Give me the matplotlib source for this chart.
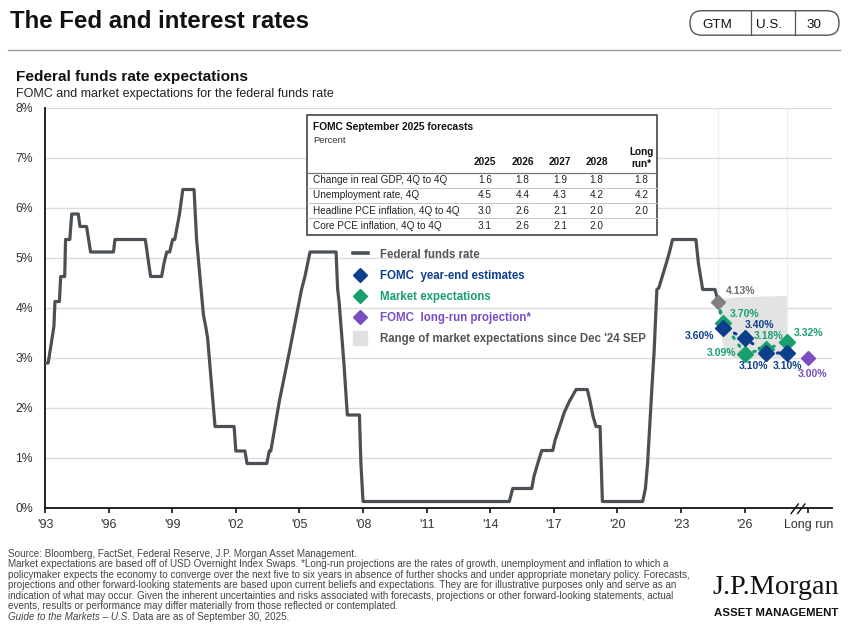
import matplotlib
matplotlib.use("Agg")
import matplotlib.pyplot as plt
from matplotlib.patches import FancyBboxPatch, Rectangle
from matplotlib.lines import Line2D

plt.rcParams['font.family'] = ['Liberation Sans', 'DejaVu Sans']

# ---------------- data (x positions: tick 'YY = end of year YY) ----------------
ffr_x = [1993.00, 1993.15, 1993.42, 1993.47, 1993.68, 1993.74, 1993.93, 1993.97, 1994.17,
         1994.26, 1994.57, 1994.65, 1994.96, 1995.15, 1996.23, 1996.30, 1997.73, 1997.98,
         1998.50, 1998.60, 1998.74, 1998.88, 1999.02, 1999.12, 1999.34, 1999.50, 2000.03,
         2000.15, 2000.47, 2000.58, 2000.67, 2001.02, 2001.92, 2002.00, 2002.43, 2002.53,
         2003.46, 2003.58, 2003.65, 2003.85, 2004.05, 2004.29, 2004.52, 2004.76, 2005.10,
         2005.26, 2005.50, 2006.73, 2006.80, 2006.87, 2007.10, 2007.26, 2007.83, 2007.90,
         2008.00, 2014.90, 2015.06, 2015.96, 2016.06, 2016.24, 2016.43, 2016.95, 2017.06,
         2017.26, 2017.49, 2017.73, 2018.05, 2018.58, 2018.71, 2018.85, 2018.99, 2019.18,
         2019.29, 2021.19, 2021.32, 2021.42, 2021.62, 2021.73, 2021.86, 2021.95, 2022.30,
         2022.45, 2022.60, 2023.70, 2023.82, 2024.02, 2024.60, 2024.75]
ffr_y = [2.90, 2.90, 3.63, 4.13, 4.13, 4.63, 4.63, 5.37, 5.37,
         5.88, 5.88, 5.63, 5.63, 5.12, 5.12, 5.37, 5.37, 4.63,
         4.63, 4.87, 5.12, 5.12, 5.37, 5.37, 5.87, 6.37, 6.37,
         5.37, 3.87, 3.63, 3.40, 1.63, 1.63, 1.14, 1.14, 0.89,
         0.89, 1.14, 1.14, 1.63, 2.13, 2.63, 3.11, 3.63, 4.37,
         4.63, 5.12, 5.12, 4.39, 4.13, 2.89, 1.86, 1.86, 0.89,
         0.13, 0.13, 0.39, 0.39, 0.63, 0.89, 1.15, 1.15, 1.36,
         1.61, 1.91, 2.13, 2.37, 2.37, 2.13, 1.83, 1.63, 1.63,
         0.13, 0.13, 0.39, 0.88, 2.36, 3.13, 4.37, 4.40, 4.89,
         5.11, 5.37, 5.37, 4.89, 4.37, 4.37, 4.13]

current_x = [2024.75]
current_y = [4.13]
fomc_x = [2025, 2026, 2027, 2028]
fomc_y = [3.60, 3.40, 3.10, 3.10]
mkt_x = [2025, 2026, 2027, 2028]
mkt_y = [3.70, 3.09, 3.18, 3.32]
longrun_x = [2029]
longrun_y = [3.00]

range_x = [2024.75, 2024.85, 2024.95, 2025.10, 2025.50, 2026.0, 2027.0, 2028.0]
range_lo = [4.13, 3.60, 3.30, 3.12, 3.00, 3.00, 3.00, 3.00]
range_hi = [4.13, 4.17, 4.19, 4.20, 4.22, 4.23, 4.24, 4.25]

year_ticks = [1993, 1996, 1999, 2002, 2005, 2008, 2011, 2014, 2017, 2020, 2023, 2026, 2029]
year_labels = ["'93", "'96", "'99", "'02", "'05", "'08", "'11", "'14", "'17", "'20", "'23", "'26", "Long run"]
y_ticks = [0, 1, 2, 3, 4, 5, 6, 7, 8]

table_title = "FOMC September 2025 forecasts"
table_unit = "Percent"
table_cols = ["2025", "2026", "2027", "2028", "Long\nrun*"]
table_rows = ["Change in real GDP, 4Q to 4Q", "Unemployment rate, 4Q",
              "Headline PCE inflation, 4Q to 4Q", "Core PCE inflation, 4Q to 4Q"]
table_vals = [["1.6", "1.8", "1.9", "1.8", "1.8"],
              ["4.5", "4.4", "4.3", "4.2", "4.2"],
              ["3.0", "2.6", "2.1", "2.0", "2.0"],
              ["3.1", "2.6", "2.1", "2.0", ""]]

legend_labels = ["Federal funds rate", "FOMC  year-end estimates", "Market expectations",
                 "FOMC  long-run projection*", "Range of market expectations since Dec '24 SEP"]

footnotes = [
    "Source: Bloomberg, FactSet, Federal Reserve, J.P. Morgan Asset Management.",
    "Market expectations are based off of USD Overnight Index Swaps. *Long-run projections are the rates of growth, unemployment and inflation to which a",
    "policymaker expects the economy to converge over the next five to six years in absence of further shocks and under appropriate monetary policy. Forecasts,",
    "projections and other forward-looking statements are based upon current beliefs and expectations. They are for illustrative purposes only and serve as an",
    "indication of what may occur. Given the inherent uncertainties and risks associated with forecasts, projections or other forward-looking statements, actual",
    "events, results or performance may differ materially from those reflected or contemplated.",
]
footnote_italic = "Guide to the Markets \u2013 U.S."
footnote_end = " Data are as of September 30, 2025."

# ---------------- style ----------------
C_FFR = '#4B5056'
C_NAVY = '#0D3F8C'
C_GREEN = '#17A06C'
C_PURPLE = '#7B4CC2'
C_GRAY = '#808080'
C_RANGE = '#E3E3E3'
C_TXT = '#555555'

W, H = 850, 634
fig = plt.figure(figsize=(W / 100, H / 100), dpi=100)
fig.patch.set_facecolor('white')

ax = fig.add_axes([45 / W, 1 - 508 / H, 787 / W, 400 / H])
ax.set_xlim(1993, 2030.12)
ax.set_ylim(0, 8)
ax.set_axisbelow(True)
ax.yaxis.grid(True, color='#DCDCDC', lw=1.0)
for s in ['top', 'right']:
    ax.spines[s].set_visible(False)
for s in ['left', 'bottom']:
    ax.spines[s].set_color('#111111')
    ax.spines[s].set_linewidth(1.3)

ax.set_yticks(y_ticks)
ax.set_yticklabels([f"{v}%" for v in y_ticks])
ax.tick_params(axis='y', length=0, pad=8.5, labelsize=8.8, labelcolor='#333333')
ax.set_xticks(year_ticks)
ax.set_xticklabels(year_labels)
ax.tick_params(axis='x', length=3.5, width=1.2, direction='out', pad=4.5,
               labelsize=9, labelcolor='#333333', color='#111111')

# faint verticals bounding the range area
ax.vlines([range_x[0], range_x[-1]], [range_hi[0], range_hi[-1]], 8, color='#F0F0F0', lw=1, zorder=0.5)

ax.fill_between(range_x, range_lo, range_hi, color=C_RANGE, lw=0, zorder=1)
ax.plot(ffr_x, ffr_y, color=C_FFR, lw=2.3, solid_joinstyle='round', zorder=3)

ax.plot(current_x + fomc_x, current_y + fomc_y, color=C_NAVY, lw=2.2,
        ls=(0, (0.6, 2.6)), dash_capstyle='round', zorder=4)
ax.plot(current_x + mkt_x, current_y + mkt_y, color=C_GREEN, lw=2.2,
        ls=(0, (0.6, 2.6)), dash_capstyle='round', zorder=4)

ax.plot(current_x, current_y, marker='D', ms=7.5, color=C_GRAY, ls='none', zorder=6)
ax.plot(mkt_x, mkt_y, marker='D', ms=8, color=C_GREEN, ls='none', zorder=5)
ax.plot(fomc_x, fomc_y, marker='D', ms=8, color=C_NAVY, ls='none', zorder=6)
ax.plot(longrun_x, longrun_y, marker='D', ms=7.5, color=C_PURPLE, ls='none', zorder=6)

# axis break marks
for x0 in (2028.19, 2028.50):
    ax.plot([x0, x0 + 0.34], [-0.11, 0.08], color='#111111', lw=1.0, clip_on=False, zorder=7)

# value labels
lab_fs = 7.5
def label(x, y, txt, color, dx, dy, ha):
    ax.annotate(txt, (x, y), xytext=(dx, dy), textcoords='offset pixels',
                ha=ha, va='center', fontsize=lab_fs, fontweight='bold', color=color, zorder=8)

label(current_x[0], current_y[0], f"{current_y[0]:.2f}%", '#6E6E6E', 8, 10, 'left')
label(mkt_x[0], mkt_y[0], f"{mkt_y[0]:.2f}%", C_GREEN, 6, 9, 'left')
label(fomc_x[0], fomc_y[0], f"{fomc_y[0]:.2f}%", C_NAVY, -9, -8, 'right')
label(fomc_x[1], fomc_y[1], f"{fomc_y[1]:.2f}%", C_NAVY, 15, 12.5, 'center')
label(mkt_x[1], mkt_y[1], f"{mkt_y[1]:.2f}%", C_GREEN, -8, 0, 'right')
label(mkt_x[2], mkt_y[2], f"{mkt_y[2]:.2f}%", C_GREEN, 3, 13, 'center')
label(fomc_x[2], fomc_y[2], f"{fomc_y[2]:.2f}%", C_NAVY, -12, -13, 'center')
label(mkt_x[3], mkt_y[3], f"{mkt_y[3]:.2f}%", C_GREEN, 7, 9, 'left')
label(fomc_x[3], fomc_y[3], f"{fomc_y[3]:.2f}%", C_NAVY, 0, -13, 'center')
label(longrun_x[0], longrun_y[0], f"{longrun_y[0]:.2f}%", C_PURPLE, 4, -16, 'center')

# legend
handles = [Line2D([], [], color=C_FFR, lw=2.6),
           Line2D([], [], marker='D', color=C_NAVY, ls='none', ms=7.5),
           Line2D([], [], marker='D', color=C_GREEN, ls='none', ms=7.5),
           Line2D([], [], marker='D', color=C_PURPLE, ls='none', ms=7.5),
           Line2D([], [], marker='s', color='#E0E0E0', ls='none', ms=9.5)]
leg = ax.legend(handles, legend_labels, loc='upper left',
                bbox_to_anchor=(353 / W, 1 - 248.5 / H), bbox_transform=fig.transFigure,
                frameon=False, borderpad=0, borderaxespad=0, handlelength=1.3,
                handletextpad=1.05, labelspacing=0.8,
                prop={'size': 8.3, 'weight': 'bold'})
for t, c in zip(leg.get_texts(), [C_TXT, C_NAVY, C_GREEN, C_PURPLE, C_TXT]):
    t.set_color(c)

# ---------------- overlay in pixel coordinates ----------------
ov = fig.add_axes([0, 0, 1, 1], zorder=5)
ov.set_xlim(0, W)
ov.set_ylim(H, 0)
ov.axis('off')
ov.patch.set_alpha(0)

ov.text(10, 28.3, "The Fed and interest rates", fontsize=17.3, fontweight='bold',
        color='#111111', va='baseline', ha='left')
ov.plot([8, 840], [49.5, 49.5], color='#9A9A9A', lw=1.0)

badge = FancyBboxPatch((690, 10.7), 149, 24.5, boxstyle="round,pad=0,rounding_size=12",
                       facecolor='white', edgecolor='#555555', lw=1.0)
ov.add_patch(badge)
ov.plot([750.7, 750.7], [10.7, 35.2], color='#555555', lw=0.9)
ov.plot([795, 795], [10.7, 35.2], color='#555555', lw=0.9)
for cx, s in [(717, "GTM"), (769, "U.S."), (813.5, "30")]:
    ov.text(cx, 28, s, fontsize=9.6, ha='center', va='baseline', color='#111111')

ov.text(16, 80.7, "Federal funds rate expectations", fontsize=11.1, fontweight='bold',
        color='#111111', va='baseline')
ov.text(16, 96.7, "FOMC and market expectations for the federal funds rate", fontsize=9.0,
        color='#222222', va='baseline')

# table
ov.add_patch(Rectangle((307, 115), 350, 120, facecolor='white', edgecolor='#444444', lw=1.2, zorder=2))
ov.text(313, 126.7, table_title, fontsize=7.4, fontweight='bold', va='center', color='#111111', zorder=3)
ov.text(313, 140.7, table_unit, fontsize=6.8, va='center', color='#333333', zorder=3)
col_cx = [485, 522.7, 560, 596.7, 641.7]
for cx, c in zip(col_cx, table_cols):
    ov.text(cx, 158 if "\n" in c else 161.7, c, fontsize=7.2, fontweight='bold', ha='center',
            va='center', color='#111111', linespacing=1.15, zorder=3)
ov.plot([307, 657], [172.5, 172.5], color='#777777', lw=0.9, zorder=3)
row_cy = [180, 195.3, 210.7, 226]
for i, (cy, r) in enumerate(zip(row_cy, table_rows)):
    ov.text(313, cy, r, fontsize=7.2, va='center', color='#222222', zorder=3)
    for cx, v in zip(col_cx, table_vals[i]):
        ov.text(cx, cy, v, fontsize=7.2, ha='center', va='center', color='#222222', zorder=3)
    if i < len(table_rows) - 1:
        ov.plot([307, 657], [cy + 7.6, cy + 7.6], color='#C4C4C4', lw=0.7, zorder=3)

# footnotes
fn_fs = 7.1
fn_y = [554, 564.4, 574.8, 585.2, 595.6, 606]
for y, s in zip(fn_y, footnotes):
    ov.text(8, y, s, fontsize=fn_fs, va='center', color='#444444')
t_it = ov.text(8, 616.5, footnote_italic, fontsize=fn_fs, va='center', style='italic', color='#444444')
ov.annotate(footnote_end, xy=(1, 0), xycoords=t_it, va='bottom', ha='left',
            fontsize=fn_fs, color='#444444')

# logo
ov.text(712, 594, "J.P.Morgan", fontsize=20.3, family=['Liberation Serif', 'DejaVu Serif'],
        va='baseline', ha='left', color='#111111')
ov.text(714, 616, "ASSET MANAGEMENT", fontsize=8.2, fontweight='bold', va='baseline',
        ha='left', color='#111111')

fig.savefig("out.png", dpi=100, facecolor='white')
